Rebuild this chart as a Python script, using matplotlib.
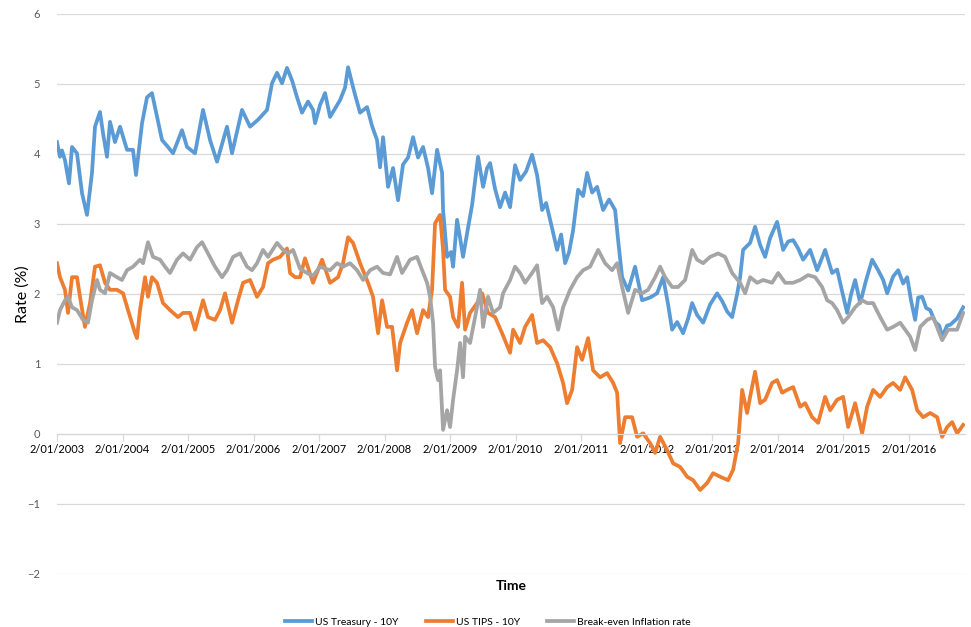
import matplotlib
matplotlib.use("Agg")
import matplotlib.pyplot as plt
import numpy as np

plt.rcParams['font.family'] = ['Lato', 'DejaVu Sans']

# ---- data (years since 2 Jan 2003, rate %) ----
tsy_t = [0.00,0.046,0.076,0.122,0.183,0.229,0.305,0.382,0.458,0.534,0.580,0.656,0.702,0.763,0.809,0.885,0.962,
         1.069,1.160,1.206,1.298,1.374,1.450,1.527,1.603,1.695,1.771,1.908,1.985,2.107,2.229,2.336,2.443,2.595,
         2.672,2.824,2.947,3.069,3.206,3.282,3.359,3.435,3.511,3.588,3.664,3.740,3.832,3.908,3.939,4.015,4.092,
         4.168,4.244,4.321,4.397,4.443,4.534,4.626,4.733,4.809,4.885,4.931,4.977,5.053,5.130,5.206,5.282,5.359,
         5.435,5.511,5.588,5.664,5.725,5.802,5.878,5.893,5.954,6.015,6.046,6.107,6.153,6.198,6.275,6.336,6.427,
         6.504,6.565,6.611,6.687,6.763,6.840,6.916,6.992,7.069,7.160,7.252,7.328,7.405,7.466,7.527,7.634,7.695,
         7.756,7.817,7.878,7.954,8.031,8.092,8.168,8.244,8.336,8.427,8.519,8.565,8.626,8.718,8.824,8.931,9.053,
         9.160,9.252,9.328,9.389,9.466,9.557,9.634,9.695,9.771,9.863,9.969,10.076,10.153,10.229,10.305,10.382,
         10.427,10.473,10.580,10.656,10.733,10.809,10.885,10.992,11.084,11.160,11.237,11.313,11.389,11.496,
         11.603,11.725,11.832,11.908,11.954,12.061,12.122,12.183,12.260,12.351,12.443,12.534,12.611,12.672,
         12.763,12.840,12.916,12.977,13.038,13.099,13.145,13.206,13.267,13.328,13.405,13.466,13.511,13.588,
         13.634,13.740,13.832]
tsy_v = [4.17,3.96,4.05,3.91,3.58,4.10,4.01,3.44,3.13,3.73,4.39,4.60,4.30,3.96,4.46,4.17,4.39,
         4.06,4.06,3.70,4.44,4.81,4.87,4.53,4.20,4.10,4.01,4.34,4.10,4.01,4.63,4.20,3.89,4.39,
         4.01,4.63,4.39,4.49,4.63,5.01,5.16,5.01,5.23,5.05,4.81,4.59,4.75,4.63,4.44,4.70,4.87,
         4.53,4.65,4.77,4.95,5.24,4.90,4.59,4.67,4.40,4.20,3.81,4.24,3.53,3.80,3.34,3.85,3.95,
         4.24,3.95,4.10,3.80,3.44,4.06,3.73,3.20,2.53,2.60,2.39,3.06,2.80,2.53,2.95,3.27,3.96,
         3.53,3.80,3.87,3.50,3.24,3.45,3.24,3.84,3.63,3.75,3.99,3.70,3.20,3.30,3.06,2.63,2.85,
         2.44,2.60,2.91,3.49,3.40,3.73,3.45,3.53,3.20,3.35,3.20,2.77,2.24,2.05,2.39,1.91,1.95,
         2.01,2.24,1.85,1.49,1.60,1.44,1.65,1.87,1.70,1.59,1.85,2.01,1.90,1.75,1.67,2.00,
         2.24,2.63,2.73,2.96,2.70,2.53,2.80,3.03,2.63,2.75,2.77,2.65,2.49,2.63,
         2.34,2.63,2.30,2.35,2.16,1.73,2.00,2.20,1.87,2.20,2.49,2.34,2.20,2.01,
         2.25,2.34,2.15,2.24,1.90,1.63,1.95,1.96,1.80,1.77,1.60,1.55,1.39,1.55,
         1.56,1.65,1.81]

tips_t = [0.00,0.046,0.122,0.168,0.229,0.305,0.351,0.427,0.504,0.580,0.656,0.733,0.809,0.916,1.008,1.084,
          1.191,1.221,1.267,1.344,1.389,1.450,1.527,1.618,1.725,1.847,1.924,2.031,2.107,2.229,2.305,2.412,
          2.489,2.565,2.672,2.763,2.840,2.947,3.053,3.145,3.221,3.298,3.405,3.511,3.557,3.634,3.710,3.786,
          3.908,4.046,4.168,4.290,4.366,4.443,4.519,4.626,4.748,4.824,4.901,4.962,5.038,5.115,5.191,5.237,
          5.344,5.420,5.496,5.588,5.664,5.725,5.771,5.847,5.893,5.924,6.000,6.046,6.122,6.183,6.229,6.305,
          6.412,6.489,6.580,6.687,6.794,6.916,6.962,7.069,7.145,7.252,7.328,7.420,7.527,7.634,7.725,7.786,
          7.863,7.939,8.015,8.107,8.183,8.290,8.397,8.489,8.550,8.595,8.672,8.779,8.855,8.947,9.053,9.130,
          9.206,9.313,9.405,9.511,9.618,9.710,9.817,9.924,10.015,10.122,10.244,10.321,10.397,10.458,10.534,
          10.580,10.656,10.733,10.809,10.916,10.992,11.069,11.145,11.237,11.344,11.420,11.527,11.618,11.725,
          11.802,11.908,12.000,12.076,12.183,12.290,12.366,12.458,12.565,12.672,12.763,12.870,12.947,13.053,
          13.130,13.221,13.328,13.435,13.511,13.588,13.664,13.740,13.832]
tips_v = [2.44,2.24,2.06,1.73,2.24,2.24,1.96,1.53,1.87,2.39,2.41,2.16,2.06,2.06,2.01,1.77,
          1.44,1.37,1.77,2.24,1.96,2.24,2.16,1.87,1.77,1.67,1.73,1.73,1.49,1.91,1.67,1.63,
          1.77,2.01,1.59,1.91,2.16,2.20,1.96,2.10,2.44,2.49,2.53,2.65,2.30,2.24,2.24,2.51,
          2.16,2.49,2.16,2.24,2.44,2.81,2.73,2.44,2.16,1.96,1.44,1.91,1.53,1.53,0.91,1.30,
          1.59,1.77,1.44,1.77,1.67,2.06,3.01,3.13,2.63,2.06,1.96,1.67,1.53,2.16,1.49,1.73,
          1.87,2.01,1.73,1.67,1.44,1.16,1.49,1.30,1.53,1.70,1.30,1.34,1.24,1.01,0.73,0.44,
          0.63,1.24,1.06,1.37,0.91,0.81,0.87,0.73,0.59,-0.13,0.24,0.24,-0.04,0.01,-0.13,-0.27,
          -0.04,-0.23,-0.42,-0.47,-0.61,-0.66,-0.80,-0.70,-0.56,-0.61,-0.66,-0.51,-0.13,0.63,0.30,
          0.53,0.89,0.44,0.49,0.73,0.77,0.59,0.63,0.67,0.39,0.44,0.24,0.16,0.53,
          0.34,0.49,0.53,0.10,0.44,0.01,0.39,0.63,0.53,0.67,0.73,0.63,0.81,0.63,
          0.34,0.24,0.30,0.24,-0.04,0.10,0.17,0.01,0.13]

bei_t = [0.000,0.046,0.122,0.168,0.229,0.305,0.397,0.473,0.534,0.611,0.656,0.733,0.809,0.916,0.992,1.069,
         1.160,1.267,1.313,1.389,1.466,1.573,1.649,1.725,1.832,1.924,2.031,2.137,2.214,2.305,2.412,2.519,
         2.595,2.687,2.794,2.901,2.977,3.053,3.145,3.221,3.359,3.450,3.527,3.603,3.710,3.817,3.908,4.015,
         4.168,4.275,4.366,4.473,4.580,4.672,4.779,4.885,4.977,5.084,5.191,5.267,5.389,5.496,5.573,5.649,
         5.695,5.740,5.771,5.817,5.847,5.893,5.954,6.000,6.046,6.107,6.153,6.198,6.229,6.305,6.382,6.458,
         6.504,6.580,6.656,6.763,6.809,6.916,6.992,7.069,7.145,7.252,7.328,7.405,7.481,7.573,7.649,7.725,
         7.832,7.939,8.031,8.137,8.260,8.366,8.473,8.550,8.626,8.718,8.824,8.931,9.023,9.130,9.206,9.282,
         9.389,9.481,9.588,9.695,9.771,9.863,9.969,10.092,10.198,10.305,10.427,10.504,10.580,10.687,10.779,
         10.916,11.008,11.115,11.237,11.344,11.466,11.573,11.679,11.756,11.832,11.908,12.000,12.076,12.183,
         12.290,12.366,12.458,12.565,12.672,12.763,12.870,12.947,13.023,13.099,13.176,13.282,13.374,13.511,
         13.603,13.740,13.832]
bei_v = [1.59,1.77,1.91,1.96,1.81,1.77,1.63,1.59,1.91,2.20,2.06,2.01,2.30,2.24,2.20,2.34,
         2.39,2.49,2.44,2.74,2.53,2.49,2.39,2.30,2.49,2.58,2.49,2.67,2.74,2.58,2.39,2.24,
         2.34,2.53,2.58,2.39,2.34,2.44,2.63,2.53,2.73,2.63,2.58,2.63,2.36,2.30,2.26,2.39,
         2.34,2.44,2.39,2.44,2.34,2.20,2.34,2.39,2.30,2.28,2.53,2.30,2.49,2.53,2.34,2.16,
         1.96,1.59,0.96,0.77,0.91,0.06,0.34,0.10,0.49,0.91,1.30,0.81,1.39,1.30,1.67,2.06,
         1.53,1.96,1.73,1.81,2.01,2.20,2.39,2.30,2.16,2.30,2.41,1.87,1.96,1.81,1.49,1.81,
         2.06,2.24,2.34,2.39,2.63,2.44,2.34,2.44,2.10,1.73,2.06,2.01,2.06,2.24,2.39,2.24,
         2.10,2.10,2.20,2.63,2.49,2.44,2.53,2.58,2.53,2.30,2.16,2.01,2.24,2.16,2.20,
         2.16,2.30,2.16,2.16,2.20,2.27,2.24,2.10,1.91,1.87,1.77,1.59,1.67,1.81,
         1.91,1.87,1.87,1.67,1.49,1.53,1.59,1.49,1.39,1.20,1.53,1.63,1.67,1.34,
         1.49,1.49,1.73]

years = list(range(2003, 2017))
tick_labels = [f"2/01/{y}" for y in years]
series_names = ["US Treasury - 10Y", "US TIPS - 10Y", "Break-even Inflation rate"]
colors = ["#5B9BD5", "#ED7D31", "#A5A5A5"]

fig = plt.figure(figsize=(9.71, 6.27), dpi=100)
ax = fig.add_axes([57/971, 1-574/627, (965-57)/971, (574-14)/627])

for t, v, name, c in zip([tsy_t, tips_t, bei_t], [tsy_v, tips_v, bei_v], series_names, colors):
    ax.plot(2003 + np.array(t), v, color=c, lw=2.7, label=name, solid_joinstyle='round')

ax.set_xlim(2003.0, 2003 + 13.86)
ax.set_ylim(-2, 6)
ax.set_yticks(range(-2, 7))
ax.grid(axis='y', color='#D9D9D9', lw=0.9)
ax.set_axisbelow(True)
for s in ['left', 'right', 'top']:
    ax.spines[s].set_visible(False)
ax.spines['bottom'].set_position(('data', 0))
ax.spines['bottom'].set_color('#D9D9D9')
ax.spines['bottom'].set_linewidth(0.9)
ax.set_xticks(years)
ax.set_xticklabels(tick_labels)
ax.tick_params(axis='x', colors='#D9D9D9', length=5, width=0.9, labelcolor='#000000', labelsize=8, pad=2)
ax.tick_params(axis='y', length=0, labelcolor='#595959', labelsize=8, pad=12)

fig.text(23/971, 1-294/627, "Rate (%)", rotation=90, ha='center', va='center', fontsize=11.5)
fig.text(511/971, 1-586/627, "Time", ha='center', va='center', fontsize=10, fontweight='bold')

fig.legend(loc='center', bbox_to_anchor=(488/971, 1-622/627), ncol=3, frameon=False, fontsize=7.5,
           handlelength=2.6, columnspacing=2.6, handletextpad=0.3)

fig.savefig("out.png", dpi=100, facecolor='white')
